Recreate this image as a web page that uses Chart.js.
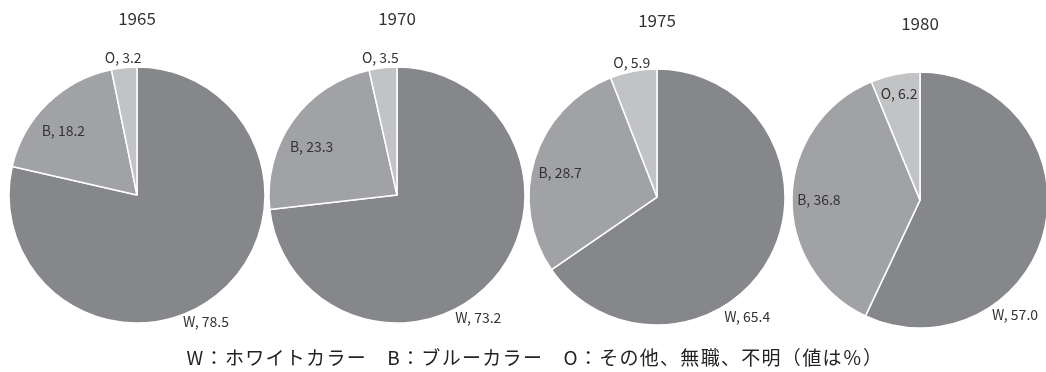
<!DOCTYPE html>
<html>
<head>
<meta charset="utf-8">
<script src="https://cdn.jsdelivr.net/npm/chart.js@4/dist/chart.umd.min.js"></script>
<style>
  html, body { margin: 0; padding: 0; background: #fff; }
  body { width: 1046px; height: 372px; position: relative; overflow: hidden; }
  .pie { position: absolute; width: 320px; height: 372px; }
  #note {
    position: absolute; left: 12px; width: 1046px; top: 344px;
    text-align: center; font-family: "Noto Sans CJK JP", sans-serif;
    font-size: 19px; letter-spacing: 1.3px; color: #222; line-height: 26px; white-space: pre;
  }
</style>
</head>
<body>
<canvas id="c1965" class="pie"></canvas>
<canvas id="c1970" class="pie"></canvas>
<canvas id="c1975" class="pie"></canvas>
<canvas id="c1980" class="pie"></canvas>
<div id="note">W：ホワイトカラー　B：ブルーカラー　O：その他、無職、不明（値は％）</div>
<script>
// Occupational composition (%) by survey year
const years = ['1965', '1970', '1975', '1980'];
const categories = ['W', 'B', 'O'];
const white = [78.5, 73.2, 65.4, 57.0];
const blue = [18.2, 23.3, 28.7, 36.8];
const other = [3.2, 3.5, 5.9, 6.2];

// Layout: pie centres on the page and label placement along each slice
const centers = [[136.7, 195], [396.7, 195], [656.7, 196.7], [920, 200]];
const RADIUS = 128;
// [fraction along slice, distance as a multiple of the radius] for W, B, O
const labelPlacement = [
  [[0.535, 1.123], [0.43, 0.763], [0.5, 1.076]],
  [[0.556, 1.152], [0.43, 0.767], [0.45, 1.078]],
  [[0.607, 1.169], [0.47, 0.78], [0.5, 1.07]],
  [[0.684, 1.164], [0.49, 0.79], [0.5, 0.845]]
];
const colors = ['#86878b', '#a1a2a5', '#c2c3c5'];
const FONT = '"Noto Sans CJK JP", "Noto Sans", sans-serif';

// Draws "category, value" next to each slice using the arc geometry
const sliceLabels = {
  id: 'sliceLabels',
  afterDatasetsDraw(chart, args, opts) {
    const ctx = chart.ctx;
    const meta = chart.getDatasetMeta(0);
    const ds = chart.data.datasets[0];
    ctx.save();
    ctx.font = '14px ' + FONT;
    ctx.fillStyle = '#333';
    ctx.textAlign = 'center';
    ctx.textBaseline = 'middle';
    meta.data.forEach((arc, i) => {
      const p = arc.getProps(['x', 'y', 'startAngle', 'endAngle', 'outerRadius'], true);
      const [f, k] = opts.placement[i];
      const a = p.startAngle + (p.endAngle - p.startAngle) * f;
      const r = p.outerRadius * k;
      const x = p.x + Math.cos(a) * r;
      const y = p.y + Math.sin(a) * r;
      ctx.fillText(chart.data.labels[i] + ', ' + ds.data[i].toFixed(1), x, y);
    });
    ctx.restore();
  }
};

years.forEach((year, idx) => {
  const canvas = document.getElementById('c' + year);
  const [cx, cy] = centers[idx];
  canvas.style.left = (cx - 160) + 'px';
  canvas.style.top = (cy - 195) + 'px';
  canvas.width = 320;
  canvas.height = 372;
  new Chart(canvas, {
    type: 'pie',
    data: {
      labels: categories,
      datasets: [{
        data: [white[idx], blue[idx], other[idx]],
        backgroundColor: colors,
        borderColor: '#ffffff',
        borderWidth: 1.5
      }]
    },
    plugins: [sliceLabels],
    options: {
      responsive: false,
      animation: false,
      events: [],
      layout: { padding: { top: 0, bottom: 10.6, left: 0, right: 0 } },
      plugins: {
        legend: { display: false },
        tooltip: { enabled: false },
        title: {
          display: true,
          text: year,
          color: '#333',
          font: { family: FONT, size: 17, weight: 'normal', lineHeight: 1.2 },
          padding: { top: 8.4, bottom: 0 }
        },
        sliceLabels: { placement: labelPlacement[idx] }
      },
      datasets: { pie: { radius: RADIUS } }
    }
  });
});
</script>
</body>
</html>
